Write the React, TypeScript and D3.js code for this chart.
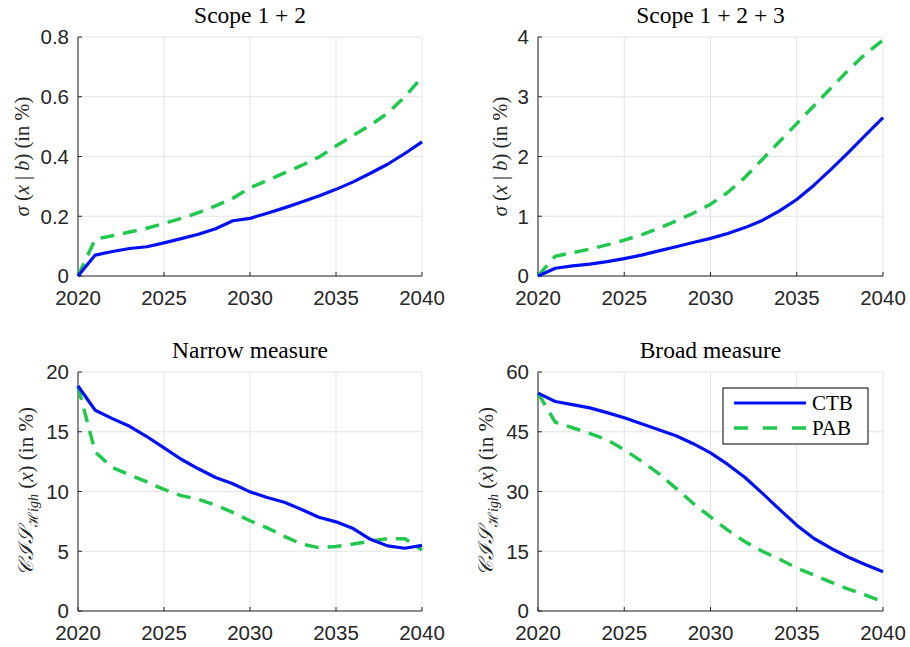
import React from "react";
import * as d3 from "d3";

// Years on the horizontal axis
const years = d3.range(2020, 2041);

// Scope 1 + 2 : sigma(x | b) in %
const scope12CTB = [0, 0.07, 0.082, 0.092, 0.098, 0.111, 0.125, 0.14, 0.158, 0.185, 0.193, 0.21, 0.228, 0.248, 0.268, 0.29, 0.315, 0.344, 0.374, 0.41, 0.449];
const scope12PAB = [0, 0.123, 0.135, 0.147, 0.16, 0.176, 0.193, 0.212, 0.235, 0.26, 0.295, 0.32, 0.345, 0.37, 0.398, 0.435, 0.47, 0.505, 0.545, 0.6, 0.666];

// Scope 1 + 2 + 3 : sigma(x | b) in %
const scope123CTB = [0, 0.13, 0.17, 0.2, 0.24, 0.29, 0.35, 0.42, 0.49, 0.56, 0.63, 0.71, 0.81, 0.93, 1.09, 1.28, 1.52, 1.79, 2.07, 2.36, 2.65];
const scope123PAB = [0, 0.33, 0.39, 0.45, 0.52, 0.6, 0.69, 0.8, 0.92, 1.05, 1.2, 1.4, 1.65, 1.95, 2.25, 2.55, 2.85, 3.15, 3.45, 3.72, 3.95];

// Narrow measure : CIS_High(x) in %
const narrowCTB = [18.83, 16.8, 16.1, 15.46, 14.6, 13.65, 12.7, 11.9, 11.17, 10.65, 9.97, 9.5, 9.1, 8.5, 7.85, 7.46, 6.9, 6.0, 5.45, 5.25, 5.49];
const narrowPAB = [18.8, 13.3, 12.0, 11.4, 10.8, 10.17, 9.65, 9.35, 8.85, 8.25, 7.55, 6.95, 6.25, 5.6, 5.3, 5.4, 5.6, 5.85, 6.05, 6.05, 5.1];

// Broad measure : CIS_High(x) in %
const broadCTB = [54.7, 52.6, 51.8, 51.0, 49.8, 48.5, 47.0, 45.5, 44.0, 42.0, 39.7, 36.8, 33.5, 29.6, 25.5, 21.55, 18.2, 15.7, 13.5, 11.6, 9.86];
const broadPAB = [54.7, 47.4, 46.0, 44.6, 43.0, 40.5, 37.6, 34.5, 30.8, 27.0, 23.6, 20.3, 17.4, 15.0, 13.0, 10.8, 9.0, 7.2, 5.5, 4.0, 2.3];

const xTicks = [2020, 2025, 2030, 2035, 2040];
const scope12Ticks = [0, 0.2, 0.4, 0.6, 0.8];
const scope123Ticks = [0, 1, 2, 3, 4];
const narrowTicks = [0, 5, 10, 15, 20];
const broadTicks = [0, 15, 30, 45, 60];

const seriesNames = ["CTB", "PAB"];

const BLUE = "#0010f5";
const GREEN = "#20c94e";
const AXIS = "#262626";
const GRID = "#e3e3e3";
const SANS = "'Liberation Sans', Arial, Helvetica, sans-serif";
const SERIF = "'Liberation Serif', 'DejaVu Serif', serif";

type PanelSpec = {
  title: string;
  left: number;
  right: number;
  top: number;
  bottom: number;
  yMax: number;
  yTicks: number[];
  ctb: number[];
  pab: number[];
  yFmt: (v: number) => string;
  labelX: number;
  kind: "sigma" | "cis";
  legend?: boolean;
};

const panels: PanelSpec[] = [
  { title: "Scope 1 + 2", left: 78, right: 422, top: 37, bottom: 276, yMax: 0.8, yTicks: scope12Ticks, ctb: scope12CTB, pab: scope12PAB, yFmt: (v) => (v === 0 ? "0" : v.toFixed(1)), labelX: 29, kind: "sigma" },
  { title: "Scope 1 + 2 + 3", left: 538, right: 883, top: 37, bottom: 276, yMax: 4, yTicks: scope123Ticks, ctb: scope123CTB, pab: scope123PAB, yFmt: (v) => String(v), labelX: 507, kind: "sigma" },
  { title: "Narrow measure", left: 78, right: 422, top: 372, bottom: 611, yMax: 20, yTicks: narrowTicks, ctb: narrowCTB, pab: narrowPAB, yFmt: (v) => String(v), labelX: 33, kind: "cis" },
  { title: "Broad measure", left: 538, right: 883, top: 372, bottom: 611, yMax: 60, yTicks: broadTicks, ctb: broadCTB, pab: broadPAB, yFmt: (v) => String(v), labelX: 493, kind: "cis", legend: true },
];

function YLabel({ kind, x, y }: { kind: "sigma" | "cis"; x: number; y: number }) {
  if (kind === "sigma") {
    return (
      <text transform={`translate(${x},${y}) rotate(-90)`} textAnchor="middle" fontFamily={SERIF} fontSize={20.5} fill={AXIS}>
        <tspan fontStyle="italic">σ</tspan>
        <tspan> (</tspan>
        <tspan fontStyle="italic">x</tspan>
        <tspan> | </tspan>
        <tspan fontStyle="italic">b</tspan>
        <tspan>) (in %)</tspan>
      </text>
    );
  }
  return (
    <text transform={`translate(${x},${y}) rotate(-90)`} textAnchor="middle" fontFamily={SERIF} fontSize={21} fill={AXIS}>
      <tspan fontStyle="italic" letterSpacing={1}>𝒞ℐ𝒮</tspan>
      <tspan fontSize={14} dy={5}>ℋ</tspan>
      <tspan fontSize={14} fontStyle="italic">igh</tspan>
      <tspan dy={-5}> (</tspan>
      <tspan fontStyle="italic">x</tspan>
      <tspan>) (in %)</tspan>
    </text>
  );
}

function Panel({ p }: { p: PanelSpec }) {
  const x = d3.scaleLinear().domain([2020, 2040]).range([p.left, p.right]);
  const y = d3.scaleLinear().domain([0, p.yMax]).range([p.bottom, p.top]);
  const line = d3
    .line<number>()
    .x((_, i) => x(years[i]))
    .y((d) => y(d));
  const cx = (p.left + p.right) / 2;
  const cy = (p.top + p.bottom) / 2;
  return (
    <g>
      {/* grid */}
      {xTicks.map((t) => (
        <line key={"gx" + t} x1={x(t)} x2={x(t)} y1={p.top} y2={p.bottom} stroke={GRID} strokeWidth={1} />
      ))}
      {p.yTicks.map((t) => (
        <line key={"gy" + t} x1={p.left} x2={p.right} y1={y(t)} y2={y(t)} stroke={GRID} strokeWidth={1} />
      ))}
      {/* axes */}
      <line x1={p.left} x2={p.left} y1={p.top} y2={p.bottom} stroke={AXIS} strokeWidth={1} />
      <line x1={p.left} x2={p.right} y1={p.bottom} y2={p.bottom} stroke={AXIS} strokeWidth={1} />
      {xTicks.map((t) => (
        <g key={"tx" + t}>
          <line x1={x(t)} x2={x(t)} y1={p.bottom} y2={p.bottom - 4} stroke={AXIS} strokeWidth={1} />
          <text x={x(t)} y={p.bottom + 29} textAnchor="middle" fontFamily={SANS} fontSize={20.5} fill={AXIS}>
            {t}
          </text>
        </g>
      ))}
      {p.yTicks.map((t) => (
        <g key={"ty" + t}>
          <line x1={p.left} x2={p.left + 4} y1={y(t)} y2={y(t)} stroke={AXIS} strokeWidth={1} />
          <text x={p.left - 9} y={y(t)} dy="0.36em" textAnchor="end" fontFamily={SANS} fontSize={20.5} fill={AXIS}>
            {p.yFmt(t)}
          </text>
        </g>
      ))}
      {/* series */}
      <path d={line(p.pab) ?? ""} fill="none" stroke={GREEN} strokeWidth={3.5} strokeDasharray="14,9" />
      <path d={line(p.ctb) ?? ""} fill="none" stroke={BLUE} strokeWidth={3.2} strokeLinejoin="round" />
      {/* title */}
      <text x={cx} y={p.top - 14} textAnchor="middle" fontFamily={SERIF} fontSize={23.5} fill="#000">
        {p.title}
      </text>
      <YLabel kind={p.kind} x={p.labelX} y={cy} />
      {p.legend && (
        <g>
          <rect x={723} y={388} width={145} height={56} fill="#fff" stroke="#000" strokeWidth={1} />
          <line x1={734} x2={806} y1={403} y2={403} stroke={BLUE} strokeWidth={3.2} />
          <line x1={734} x2={806} y1={428} y2={428} stroke={GREEN} strokeWidth={3.5} strokeDasharray="14,15" />
          <text x={812} y={410} fontFamily={SERIF} fontSize={21} fill="#000">{seriesNames[0]}</text>
          <text x={812} y={435} fontFamily={SERIF} fontSize={21} fill="#000">{seriesNames[1]}</text>
        </g>
      )}
    </g>
  );
}

export default function App() {
  return (
    <svg width={910} height={647} style={{ position: "absolute", left: 0, top: 0, background: "#fff" }}>
      <rect width={910} height={647} fill="#fff" />
      {panels.map((p) => (
        <Panel key={p.title} p={p} />
      ))}
    </svg>
  );
}
